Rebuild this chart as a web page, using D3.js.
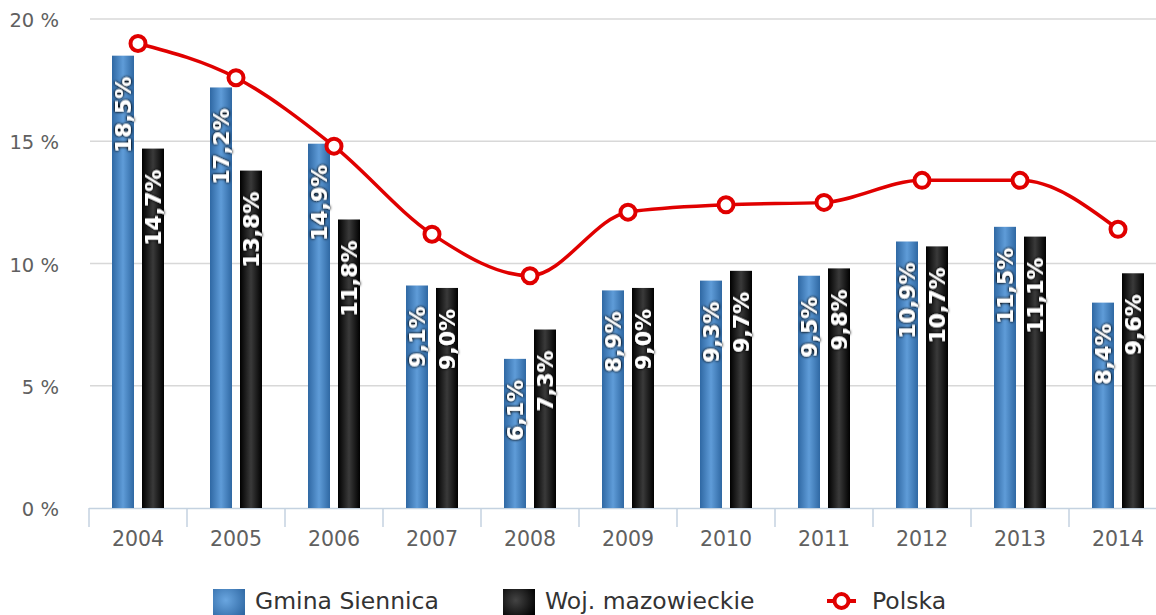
<!DOCTYPE html>
<html><head><meta charset="utf-8">
<script src="https://cdn.jsdelivr.net/npm/d3@7/dist/d3.min.js"></script>
<style>
html,body{margin:0;padding:0;background:#fff;overflow:hidden}
svg{display:block}
</style></head>
<body>
<svg id="c" width="1156" height="615"></svg>
<script>
const years = ["2004","2005","2006","2007","2008","2009","2010","2011","2012","2013","2014"];
const gmina = [18.5,17.2,14.9,9.1,6.1,8.9,9.3,9.5,10.9,11.5,8.4];
const woj = [14.7,13.8,11.8,9.0,7.3,9.0,9.7,9.8,10.7,11.1,9.6];
const polska = [19.0,17.6,14.8,11.2,9.5,12.1,12.4,12.5,13.4,13.4,11.4];
const yTicks = [0,5,10,15,20];
const seriesNames = ["Gmina Siennica","Woj. mazowieckie","Polska"];

const svg = d3.select("#c");
const defs = svg.append("defs");
function lg(id, c1, c2){
  const g = defs.append("linearGradient").attr("id", id).attr("x1","0").attr("x2","1").attr("y1","0").attr("y2","0");
  g.append("stop").attr("offset","0").attr("stop-color",c1);
  g.append("stop").attr("offset","0.5").attr("stop-color",c2);
  g.append("stop").attr("offset","1").attr("stop-color",c1);
}
lg("gBlue","#2f68a3","#5f9cd8");
lg("gBlack","#000000","#3a3a3a");
function rg(id, c1, c2){
  const g = defs.append("radialGradient").attr("id", id).attr("cx","0.4").attr("cy","0.35").attr("r","0.7");
  g.append("stop").attr("offset","0").attr("stop-color",c2);
  g.append("stop").attr("offset","1").attr("stop-color",c1);
}
rg("lBlue","#2f68a3","#6aa6e0");
rg("lBlack","#000000","#444444");
const f = defs.append("filter").attr("id","shadow").attr("x","-30%").attr("y","-30%").attr("width","160%").attr("height","160%");
f.append("feGaussianBlur").attr("in","SourceAlpha").attr("stdDeviation","1.8").attr("result","b");
f.append("feComponentTransfer").attr("in","b").attr("result","b2").append("feFuncA").attr("type","linear").attr("slope","1.8");
f.append("feFlood").attr("flood-color","#000").attr("flood-opacity","0.9").attr("result","fl");
f.append("feComposite").attr("in","fl").attr("in2","b2").attr("operator","in").attr("result","sh");
const m = f.append("feMerge");
m.append("feMergeNode").attr("in","sh");
m.append("feMergeNode").attr("in","SourceGraphic");

const x0 = d3.scaleBand().domain(years).range([89, 1167]).paddingInner(0).paddingOuter(0);
const x1 = d3.scaleBand().domain([0,1]).range([23,75]).paddingInner(2 - 52/30).paddingOuter(0);
const y = d3.scaleLinear().domain([0,20]).range([508,19]);

// gridlines
svg.append("g").selectAll("line").data(yTicks.filter(d=>d>0)).join("line")
  .attr("x1",90).attr("x2",1156).attr("y1",d=>y(d)).attr("y2",d=>y(d))
  .attr("stroke","#d8d8d8").attr("stroke-width",1.3);

// y labels
svg.append("g").selectAll("text").data(yTicks).join("text")
  .attr("x",59).attr("y",d=>y(d)+8).attr("text-anchor","end")
  .attr("font-family","DejaVu Sans").attr("font-size",19.5).attr("fill","#606060")
  .text(d=>d+" %");

// x axis
svg.append("line").attr("x1",89).attr("x2",1156).attr("y1",508.5).attr("y2",508.5).attr("stroke","#c4d2e0").attr("stroke-width",1.5);
svg.append("g").selectAll("line").data(years).join("line")
  .attr("x1",d=>x0(d)).attr("x2",d=>x0(d)).attr("y1",508).attr("y2",527)
  .attr("stroke","#c4d2e0").attr("stroke-width",1.5);
svg.append("g").selectAll("text").data(years).join("text")
  .attr("x",d=>x0(d)+x0.bandwidth()/2).attr("y",546).attr("text-anchor","middle")
  .attr("font-family","DejaVu Sans").attr("font-size",20.5).attr("fill","#606060")
  .text(d=>d);

// bars
const series = [{vals:gmina, fill:"url(#gBlue)"},{vals:woj, fill:"url(#gBlack)"}];
series.forEach((s,si)=>{
  svg.append("g").selectAll("rect").data(years).join("rect")
    .attr("x",(d)=>x0(d)+x1(si)).attr("width",x1.bandwidth())
    .attr("y",(d,i)=>y(s.vals[i])).attr("height",(d,i)=>y(0)-y(s.vals[i]))
    .attr("fill",s.fill);
});
series.forEach((s,si)=>{
  svg.append("g").selectAll("text").data(years).join("text")
    .attr("transform",(d,i)=>`translate(${x0(d)+x1(si)+x1.bandwidth()/2},${y(s.vals[i])+21}) rotate(-90)`)
    .attr("dy","0.36em").attr("text-anchor","end")
    .attr("font-family","DejaVu Sans").attr("font-weight","bold").attr("font-size",22).attr("fill","#fff")
    .attr("filter","url(#shadow)")
    .text((d,i)=>s.vals[i].toFixed(1).replace(".",",")+"%");
});

// line
const line = d3.line().x((d,i)=>x0(years[i])+x0.bandwidth()/2).y(d=>y(d)).curve(d3.curveMonotoneX);
svg.append("path").attr("d",line(polska)).attr("fill","none").attr("stroke","#e00000").attr("stroke-width",3.5);
svg.append("g").selectAll("circle").data(polska).join("circle")
  .attr("cx",(d,i)=>x0(years[i])+x0.bandwidth()/2).attr("cy",d=>y(d)).attr("r",7.5)
  .attr("fill","#fff").attr("stroke","#e00000").attr("stroke-width",4);

// legend
const lgY = 609;
svg.append("rect").attr("x",213).attr("y",589).attr("width",32).attr("height",32).attr("fill","url(#lBlue)");
svg.append("text").attr("x",255).attr("y",lgY).attr("font-family","DejaVu Sans").attr("font-size",23.5).attr("fill","#333").text(seriesNames[0]);
svg.append("rect").attr("x",503).attr("y",589).attr("width",32).attr("height",32).attr("fill","url(#lBlack)");
svg.append("text").attr("x",545).attr("y",lgY).attr("font-family","DejaVu Sans").attr("font-size",23.5).attr("fill","#333").text(seriesNames[1]);
svg.append("line").attr("x1",827).attr("x2",856).attr("y1",601).attr("y2",601).attr("stroke","#e00000").attr("stroke-width",4);
svg.append("circle").attr("cx",841.5).attr("cy",601).attr("r",7).attr("fill","#fff").attr("stroke","#e00000").attr("stroke-width",4);
svg.append("text").attr("x",872).attr("y",lgY).attr("font-family","DejaVu Sans").attr("font-size",23.5).attr("fill","#333").text(seriesNames[2]);
</script>
</body></html>
